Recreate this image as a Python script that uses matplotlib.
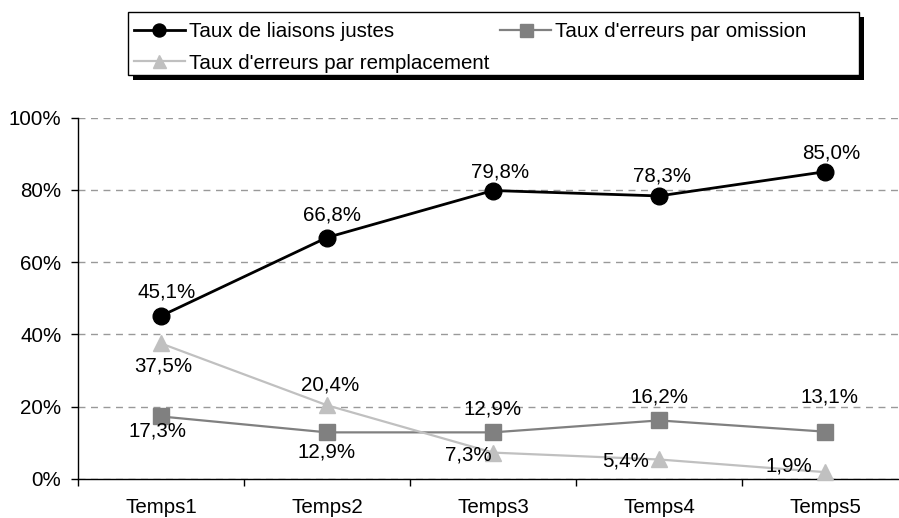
import matplotlib.pyplot as plt
from matplotlib.patches import Rectangle
from matplotlib.ticker import FuncFormatter

# data
temps = ["Temps1", "Temps2", "Temps3", "Temps4", "Temps5"]
justes = [45.1, 66.8, 79.8, 78.3, 85.0]
omission = [17.3, 12.9, 12.9, 16.2, 13.1]
remplacement = [37.5, 20.4, 7.3, 5.4, 1.9]

# label offsets in pixels (dx, dy), dy up
off_justes = [(6, 24), (5, 23), (7, 19), (3, 20), (6, 19)]
off_omission = [(-3, -15), (0, -20), (0, 23), (0, 23), (5, 35)]
off_remplacement = [(2, -23), (3, 20), (-25, -2), (-33, -2), (-36, 6)]

plt.rcParams['font.family'] = ['Liberation Sans', 'DejaVu Sans']
FS = 14.8

W, H = 899, 518
fig = plt.figure(figsize=(W / 100, H / 100), dpi=100)
ax = fig.add_axes([78 / W, (H - 479) / H, (908 - 78) / W, (479 - 117.5) / H])

x = list(range(1, len(temps) + 1))

series = [
    (justes, "Taux de liaisons justes", "black", "o", 2.0, off_justes),
    (omission, "Taux d'erreurs par omission", "#808080", "s", 1.6, off_omission),
    (remplacement, "Taux d'erreurs par remplacement", "#c0c0c0", "^", 1.6, off_remplacement),
]

handles = {}
for vals, name, col, mk, lw, offs in series:
    h, = ax.plot(x, vals, color=col, marker=mk, markersize=12, lw=lw,
                 markeredgecolor=col, label=name, zorder=3, clip_on=False)
    handles[name] = h
    for xi, v, (dx, dy) in zip(x, vals, offs):
        ax.annotate(f"{v:.1f}%".replace(".", ","), (xi, v), xytext=(dx, dy),
                    textcoords="offset pixels", ha="center", va="center",
                    fontsize=FS, color="black", zorder=4)

ax.set_xlim(0.5, 5.5)
ax.set_ylim(0, 100)
ax.set_yticks([0, 20, 40, 60, 80, 100])
ax.yaxis.set_major_formatter(FuncFormatter(lambda v, p: f"{v:.0f}%"))
ax.yaxis.grid(True, color="#999999", linestyle=(0, (5, 4)), lw=1)
ax.set_axisbelow(True)

# ticks between categories, labels at centers
ax.set_xticks([0.5 + i for i in range(6)])
ax.set_xticklabels([])
ax.set_xticks(x, minor=True)
ax.set_xticklabels(temps, minor=True)
ax.tick_params(axis="x", which="major", length=5, width=1, direction="out")
ax.tick_params(axis="x", which="minor", length=0, pad=14, labelsize=FS)
ax.tick_params(axis="y", length=5, width=1, pad=7, labelsize=FS)

for s in ["top", "right"]:
    ax.spines[s].set_visible(False)
for s in ["left", "bottom"]:
    ax.spines[s].set_color("black")
    ax.spines[s].set_linewidth(1)

# legend box with shadow
fig.patches.append(Rectangle((133 / W, 1 - 80 / H), 731 / W, 63 / H,
                             transform=fig.transFigure, facecolor="black",
                             edgecolor="none", zorder=5))
fig.patches.append(Rectangle((128 / W, 1 - 75 / H), 731 / W, 63 / H,
                             transform=fig.transFigure, facecolor="white",
                             edgecolor="black", lw=1, zorder=6))

order = ["Taux de liaisons justes", "Taux d'erreurs par remplacement",
         "Taux d'erreurs par omission"]
leg = fig.legend([handles[n] for n in order], order, ncol=2, frameon=False,
                 loc="upper left", bbox_to_anchor=(134 / W, 1 - 22 / H),
                 borderpad=0, borderaxespad=0, fontsize=FS, handlelength=2.48,
                 handletextpad=0.2, columnspacing=0.53, labelspacing=0.61,
                 markerscale=0.78)
leg.set_zorder(7)

fig.savefig("out.png", dpi=100)
